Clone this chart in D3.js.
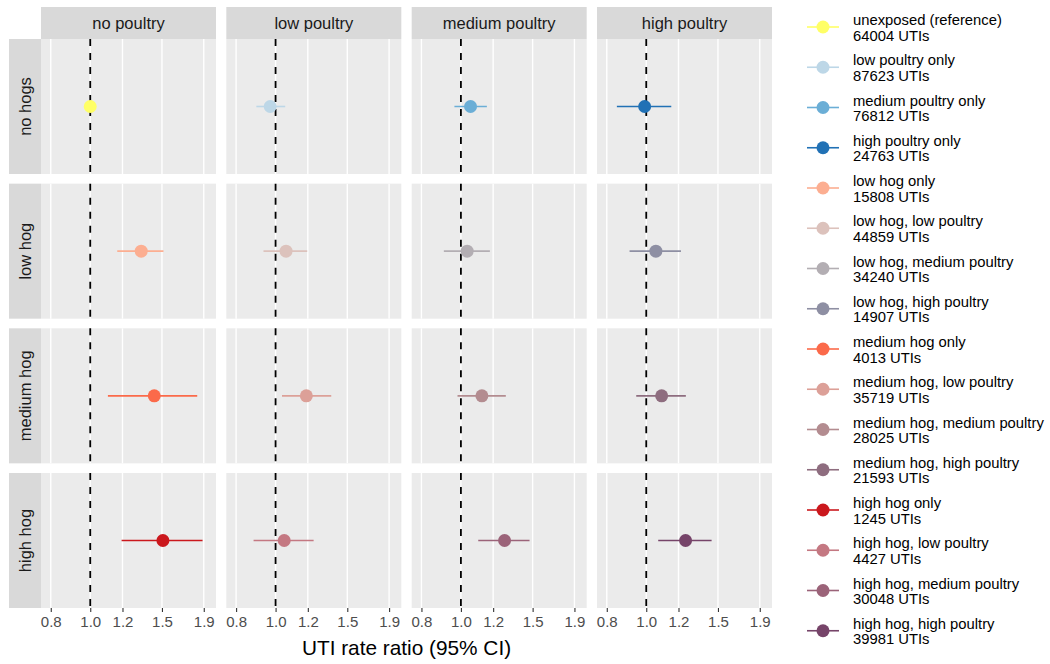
<!DOCTYPE html>
<html>
<head>
<meta charset="utf-8">
<script src="https://cdn.jsdelivr.net/npm/d3@7"></script>
<style>
  html, body { margin: 0; padding: 0; background: #ffffff; }
  svg { display: block; font-family: "Liberation Sans", Arial, Helvetica, sans-serif; }
</style>
</head>
<body>
<svg id="chart" width="1050" height="664"></svg>
<script>
// ---------- data ----------
const hogLevels = ["no hogs", "low hog", "medium hog", "high hog"];
const poultryLevels = ["no poultry", "low poultry", "medium poultry", "high poultry"];
const groupLabels = [
  "unexposed (reference)", "low poultry only", "medium poultry only", "high poultry only",
  "low hog only", "low hog, low poultry", "low hog, medium poultry", "low hog, high poultry",
  "medium hog only", "medium hog, low poultry", "medium hog, medium poultry", "medium hog, high poultry",
  "high hog only", "high hog, low poultry", "high hog, medium poultry", "high hog, high poultry"
];
const utiCounts = [64004, 87623, 76812, 24763, 15808, 44859, 34240, 14907,
                   4013, 35719, 28025, 21593, 1245, 4427, 30048, 39981];
const rateRatio = [1.000, 0.970, 1.056, 0.991, 1.334, 1.061, 1.036, 1.056,
                   1.436, 1.190, 1.126, 1.091, 1.508, 1.050, 1.280, 1.249];
const ciLower   = [1.000, 0.897, 0.964, 0.847, 1.165, 0.934, 0.908, 0.910,
                   1.105, 1.037, 0.981, 0.945, 1.194, 0.883, 1.103, 1.070];
const ciUpper   = [1.000, 1.056, 1.158, 1.152, 1.513, 1.196, 1.178, 1.217,
                   1.831, 1.370, 1.289, 1.251, 1.887, 1.240, 1.474, 1.447];
const groupColors = ["#FFFF66", "#BDD7E7", "#6BAED6", "#2171B5",
                     "#FCAE91", "#DCC2BC", "#B3AEB3", "#8E8FA3",
                     "#FB6A4A", "#DCA098", "#B38C90", "#8E6D7F",
                     "#CB181D", "#C47882", "#9B6379", "#764469"];
const xTicks = [0.8, 1.0, 1.2, 1.5, 1.9];
const xDomain = [0.757, 2.036];
const referenceValue = 1.0;

const rows = groupLabels.map((g, i) => ({
  label: g, count: utiCounts[i], rr: rateRatio[i], lo: ciLower[i], hi: ciUpper[i],
  color: groupColors[i], hog: hogLevels[Math.floor(i / 4)], poultry: poultryLevels[i % 4]
}));

// ---------- layout ----------
const svg = d3.select("#chart");
const font = "'Liberation Sans', Arial, Helvetica, sans-serif";

const colBand = d3.scaleBand().domain(poultryLevels).range([41, 772]).paddingInner(0.0558).paddingOuter(0);
const rowBand = d3.scaleBand().domain(hogLevels).range([39, 608]).paddingInner(0.0668).paddingOuter(0);
const pw = colBand.bandwidth();
const ph = rowBand.bandwidth();
const x = d3.scaleLog().domain(xDomain).range([0, pw]);

// column strips
poultryLevels.forEach(p => {
  const g = svg.append("g").attr("transform", `translate(${colBand(p)},7)`);
  g.append("rect").attr("width", pw).attr("height", 32).attr("fill", "#D9D9D9");
  g.append("text").attr("x", pw / 2).attr("y", 21.5).attr("text-anchor", "middle")
    .attr("font-size", 16.5).attr("fill", "#1A1A1A").text(p);
});

// row strips
hogLevels.forEach(h => {
  const g = svg.append("g").attr("transform", `translate(9,${rowBand(h)})`);
  g.append("rect").attr("width", 32).attr("height", ph).attr("fill", "#D9D9D9");
  g.append("text").attr("transform", `translate(21.5,${ph / 2}) rotate(-90)`)
    .attr("text-anchor", "middle").attr("font-size", 16.5).attr("fill", "#1A1A1A").text(h);
});

// panels
hogLevels.forEach(h => {
  poultryLevels.forEach(p => {
    const g = svg.append("g").attr("transform", `translate(${colBand(p)},${rowBand(h)})`);
    g.append("rect").attr("width", pw).attr("height", ph).attr("fill", "#EBEBEB");
    g.selectAll("line.grid").data(xTicks).enter().append("line")
      .attr("x1", d => x(d)).attr("x2", d => x(d)).attr("y1", 0).attr("y2", ph)
      .attr("stroke", "#ffffff").attr("stroke-width", 1.4);
    g.append("line")
      .attr("x1", x(referenceValue)).attr("x2", x(referenceValue)).attr("y1", 0).attr("y2", ph)
      .attr("stroke", "#000000").attr("stroke-width", 1.8).attr("stroke-dasharray", "7,7");
    const d = rows.filter(r => r.hog === h && r.poultry === p);
    const cy = ph / 2;
    g.selectAll("line.ci").data(d).enter().append("line")
      .attr("x1", r => x(r.lo)).attr("x2", r => x(r.hi)).attr("y1", cy).attr("y2", cy)
      .attr("stroke", r => r.color).attr("stroke-width", 1.6);
    g.selectAll("circle").data(d).enter().append("circle")
      .attr("cx", r => x(r.rr)).attr("cy", cy).attr("r", 6.5).attr("fill", r => r.color);
  });
});

// bottom axes
poultryLevels.forEach(p => {
  const g = svg.append("g").attr("transform", `translate(${colBand(p)},608)`);
  const axis = d3.axisBottom(x).tickValues(xTicks).tickFormat(d3.format(".1f")).tickSize(4).tickPadding(4);
  g.call(axis);
  g.select(".domain").remove();
  g.selectAll(".tick line").attr("stroke", "#333333").attr("stroke-width", 1.1);
  g.selectAll(".tick text").attr("fill", "#4D4D4D").attr("font-size", 15).attr("font-family", font);
});

// axis title
svg.append("text").attr("x", (41 + 772) / 2).attr("y", 655).attr("text-anchor", "middle")
  .attr("font-size", 20.8).attr("fill", "#000000").text("UTI rate ratio (95% CI)");

// legend
const lg = svg.append("g");
const legendY = d3.scaleLinear().domain([0, groupLabels.length - 1]).range([27, 27 + 15 * 40.25]);
rows.forEach((r, i) => {
  const y = legendY(i);
  lg.append("line").attr("x1", 807).attr("x2", 839).attr("y1", y).attr("y2", y)
    .attr("stroke", r.color).attr("stroke-width", 1.6);
  lg.append("circle").attr("cx", 823).attr("cy", y).attr("r", 6.5).attr("fill", r.color);
  lg.append("text").attr("x", 853).attr("y", y - 2).attr("font-size", 14.8).attr("fill", "#000").text(r.label);
  lg.append("text").attr("x", 853).attr("y", y + 13.5).attr("font-size", 14.8).attr("fill", "#000").text(r.count + " UTIs");
});
</script>
</body>
</html>
